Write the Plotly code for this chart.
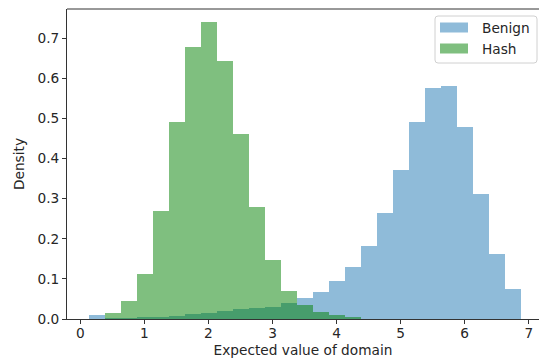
import plotly.graph_objects as go

# Histogram bins shared by both series (density-normalised counts)
bin_edges = [0.13, 0.38, 0.63, 0.88, 1.13, 1.38, 1.63, 1.88, 2.13, 2.38,
             2.63, 2.88, 3.13, 3.38, 3.63, 3.88, 4.13, 4.38, 4.63, 4.88,
             5.13, 5.38, 5.63, 5.88, 6.13, 6.38, 6.63, 6.88]

benign_density = [0.011, 0.003, 0.003, 0.004, 0.005, 0.008, 0.012, 0.014,
                  0.019, 0.024, 0.028, 0.031, 0.041, 0.053, 0.067, 0.094,
                  0.130, 0.182, 0.265, 0.371, 0.490, 0.575, 0.582, 0.479,
                  0.311, 0.161, 0.074]

hash_density = [0.0, 0.015, 0.044, 0.111, 0.269, 0.490, 0.679, 0.740,
                0.643, 0.461, 0.280, 0.148, 0.069, 0.034, 0.017, 0.009,
                0.005, 0.0, 0.0, 0.0, 0.0, 0.0, 0.0, 0.0, 0.0, 0.0, 0.0]

series_names = ["Benign", "Hash"]
series_colors = ["rgba(31,119,180,0.5)", "rgba(0,128,0,0.5)"]

x_ticks = [0, 1, 2, 3, 4, 5, 6, 7]
y_ticks = [0.0, 0.1, 0.2, 0.3, 0.4, 0.5, 0.6, 0.7]

x_title = "Expected value of domain"
y_title = "Density"

centers = [(a + b) / 2 for a, b in zip(bin_edges[:-1], bin_edges[1:])]
widths = [b - a for a, b in zip(bin_edges[:-1], bin_edges[1:])]

W, H = 539, 362
ML, MR, MT, MB = 67, 0, 9, 43
FONT = "DejaVu Sans"
FS = 13.7
TXT = "#262626"

fig = go.Figure()
for name, vals, col in zip(series_names, [benign_density, hash_density], series_colors):
    fig.add_trace(go.Bar(x=centers, y=vals, width=widths, name=name,
                         marker=dict(color=col, line=dict(width=0)),
                         showlegend=False))

fig.update_layout(
    width=W, height=H,
    margin=dict(l=ML, r=MR, t=MT, b=MB, pad=0),
    paper_bgcolor="white", plot_bgcolor="white",
    barmode="overlay", bargap=0,
    font=dict(family=FONT, size=FS, color=TXT),
    xaxis=dict(range=[-0.2075, 7.16], tickvals=x_ticks, ticks="outside",
               ticklen=4, tickwidth=1, tickcolor="#333", showgrid=False,
               zeroline=False, showline=True, linecolor="#333", linewidth=1,
               ticklabelstandoff=-2,
               title=dict(text=x_title, font=dict(size=FS), standoff=4)),
    yaxis=dict(range=[0, 0.773], tickvals=y_ticks, tickformat=".1f",
               ticks="outside", ticklen=4, tickwidth=1, tickcolor="#333",
               showgrid=False, zeroline=False, showline=True,
               linecolor="#333", linewidth=1,
               title=dict(text=y_title, font=dict(size=FS), standoff=9)),
)

# top spine
fig.add_shape(type="line", xref="paper", yref="paper", x0=0, x1=1, y0=1, y1=1,
              line=dict(color="#333", width=1))

# legend box drawn in pixel space, converted to paper coordinates
pw = W - ML - MR
ph = H - MT - MB


def px(x):
    return (x - ML) / pw


def py(y):
    return (H - MB - y) / ph


bx0, bx1, by0, by1, r = 435, 537, 16, 63, 3
path = (f"M{px(bx0 + r)},{py(by0)} L{px(bx1 - r)},{py(by0)} "
        f"Q{px(bx1)},{py(by0)} {px(bx1)},{py(by0 + r)} "
        f"L{px(bx1)},{py(by1 - r)} Q{px(bx1)},{py(by1)} {px(bx1 - r)},{py(by1)} "
        f"L{px(bx0 + r)},{py(by1)} Q{px(bx0)},{py(by1)} {px(bx0)},{py(by1 - r)} "
        f"L{px(bx0)},{py(by0 + r)} Q{px(bx0)},{py(by0)} {px(bx0 + r)},{py(by0)} Z")
fig.add_shape(type="path", xref="paper", yref="paper", path=path,
              fillcolor="rgba(255,255,255,0.8)", line=dict(color="#d0d0d0", width=1))

for i, (name, col) in enumerate(zip(series_names, series_colors)):
    cy = 27.5 + i * 21
    fig.add_shape(type="rect", xref="paper", yref="paper",
                  x0=px(440), x1=px(468), y0=py(cy - 5), y1=py(cy + 5),
                  fillcolor=col, line=dict(width=0))
    fig.add_annotation(xref="paper", yref="paper", x=px(480), y=py(cy),
                       text=name, showarrow=False, xanchor="left",
                       yanchor="middle", font=dict(size=FS, color=TXT))

fig.write_html("out.html")
